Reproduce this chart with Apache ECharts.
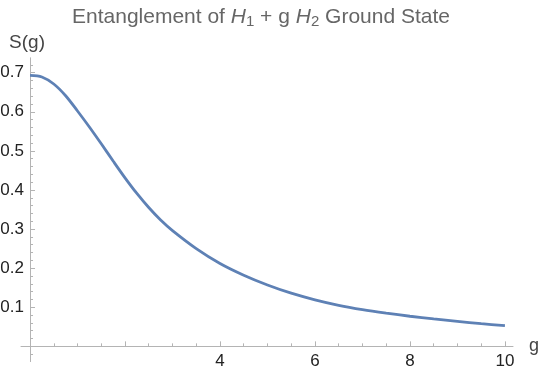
<!DOCTYPE html>
<html><head><meta charset="utf-8">
<script src="https://cdn.jsdelivr.net/npm/echarts@6/dist/echarts.min.js"></script>
<style>html,body{margin:0;padding:0;background:#fff}#c{width:540px;height:374px}</style>
</head><body><div id="c"></div>
<script>
var gValues = [0, 0.25, 0.5, 0.75, 1, 1.25, 1.5, 1.75, 2, 2.25, 2.5, 2.75, 3, 3.5, 4, 4.5, 5, 5.5, 6, 6.5, 7, 7.5, 8, 8.5, 9, 9.5, 10];
var sValues = [0.693, 0.689, 0.671, 0.641, 0.602, 0.561, 0.518, 0.474, 0.431, 0.391, 0.355, 0.323, 0.296, 0.250, 0.212, 0.182, 0.157, 0.136, 0.119, 0.105, 0.094, 0.085, 0.077, 0.070, 0.064, 0.058, 0.053];
var xTickValues = [0, 2, 4, 6, 8, 10];
var xLabelValues = [4, 6, 8, 10];
var yTickValues = [0, 0.1, 0.2, 0.3, 0.4, 0.5, 0.6, 0.7];
var yLabelValues = [0.1, 0.2, 0.3, 0.4, 0.5, 0.6, 0.7];

var font = 'Liberation Sans';
var axisColor = '#b4b4b4';
var data = gValues.map(function (g, i) { return [g, sValues[i]]; });
var chart = echarts.init(document.getElementById('c'), null, {renderer: 'canvas'});
chart.setOption({
  animation: false,
  title: {
    text: '{n|Entanglement of }{i|H}{s|1}{n| + g }{i|H}{s|2}{n| Ground State}',
    left: 67, top: 0,
    textStyle: {
      rich: {
        n: {fontSize: 21, color: '#666', fontFamily: font, fontWeight: 'normal'},
        i: {fontSize: 21, color: '#666', fontFamily: font, fontStyle: 'italic', fontWeight: 'normal'},
        s: {fontSize: 15, color: '#666', fontFamily: font, fontWeight: 'normal', padding: [9, 0, 0, 0]}
      }
    }
  },
  grid: {left: 21, right: 27, top: 57.8, bottom: 12.4, containLabel: false, outerBoundsMode: 'none'},
  xAxis: {
    type: 'value', min: -0.19, max: 10.17, minInterval: 2, maxInterval: 2,
    name: 'g', nameLocation: 'end', nameGap: 16,
    nameTextStyle: {fontSize: 18, color: '#444', fontFamily: font, verticalAlign: 'middle', padding: [2, 0, 0, 0]},
    axisLine: {onZero: true, lineStyle: {color: axisColor, width: 1}},
    axisTick: {show: true, inside: true, length: 5, customValues: xTickValues, lineStyle: {color: axisColor}},
    minorTick: {show: true, splitNumber: 4, length: 3, lineStyle: {color: axisColor}},
    axisLabel: {customValues: xLabelValues, margin: -9, fontSize: 17, color: '#222', fontFamily: font},
    splitLine: {show: false}, minorSplitLine: {show: false}
  },
  yAxis: {
    type: 'value', min: -0.039, max: 0.738, minInterval: 0.1, maxInterval: 0.1,
    name: 'S(g)', nameLocation: 'end', nameGap: 6,
    nameTextStyle: {fontSize: 19, color: '#444', fontFamily: font, align: 'center', padding: [0, 6, 0, 0]},
    axisLine: {onZero: true, lineStyle: {color: axisColor, width: 1}},
    axisTick: {show: true, inside: true, length: 5, customValues: yTickValues, lineStyle: {color: axisColor}},
    minorTick: {show: true, splitNumber: 5, length: 3, lineStyle: {color: axisColor}},
    axisLabel: {customValues: yLabelValues, margin: -3, fontSize: 17, color: '#222', fontFamily: font,
      formatter: function (v) { return v.toFixed(1); }},
    splitLine: {show: false}, minorSplitLine: {show: false}
  },
  series: [{
    type: 'line', data: data, smooth: 0.3, symbol: 'none',
    lineStyle: {color: '#5E81B5', width: 2.8}
  }]
});
</script></body></html>
